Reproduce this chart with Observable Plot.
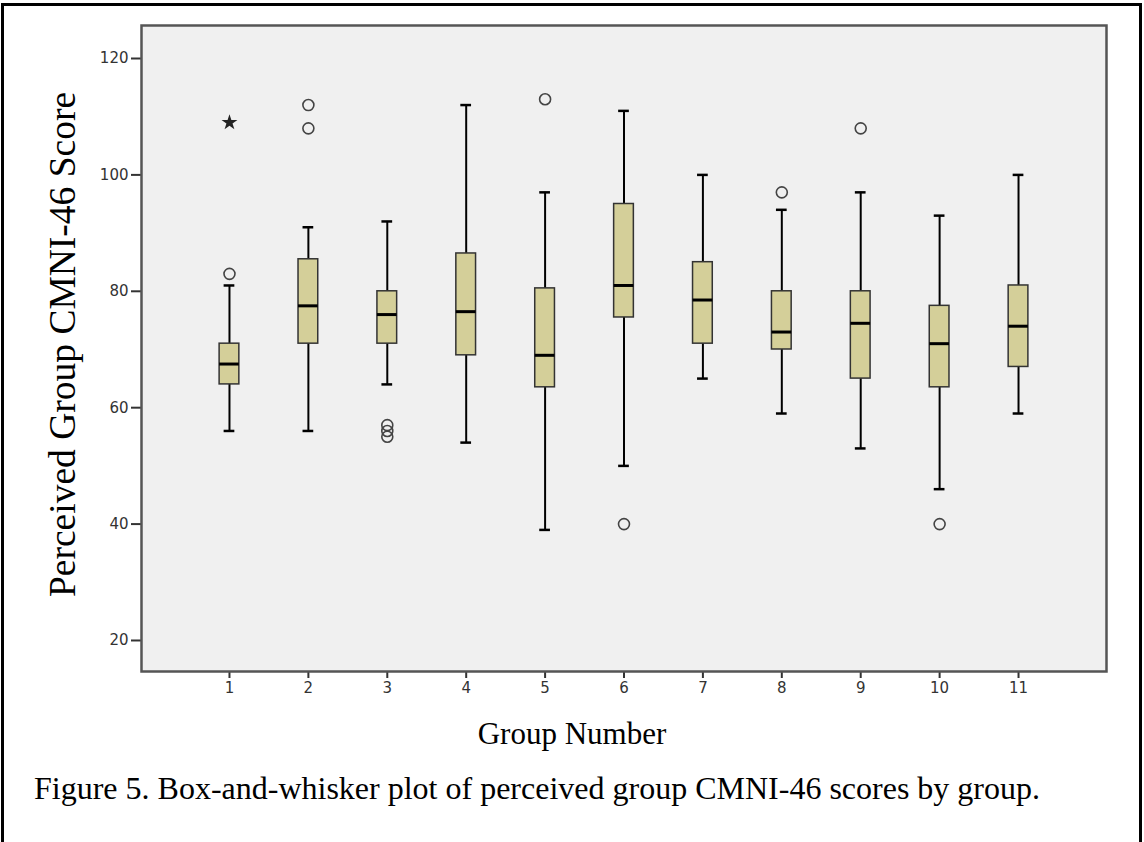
<!DOCTYPE html>
<html>
<head>
<meta charset="utf-8">
<script src="https://cdn.jsdelivr.net/npm/d3@7"></script>
<script src="https://cdn.jsdelivr.net/npm/@observablehq/plot@0.6"></script>
<style>
  html, body { margin: 0; padding: 0; background: #fff; overflow: hidden; }
  #page { position: relative; width: 1144px; height: 842px; }
  #border { position: absolute; left: 1px; top: 3px; width: 1141px; height: 860px; border: 3px solid #000; box-sizing: border-box; }
  #chart { position: absolute; left: 0; top: 0; }
  #caption { position: absolute; left: 34px; top: 772px; font-family: "Liberation Serif", "Times New Roman", serif; font-size: 32px; line-height: 1; color: #000; white-space: nowrap; }
</style>
</head>
<body>
<div id="page">
  <div id="border"></div>
  <div id="chart"></div>
  <div id="caption">Figure 5. Box-and-whisker plot of perceived group CMNI-46 scores by group.</div>
</div>
<script>
// ---- data ----
const groups      = [1, 2, 3, 4, 5, 6, 7, 8, 9, 10, 11];
const whiskerLow  = [56, 56, 64, 54, 39, 50, 65, 59, 53, 46, 59];
const q1          = [64, 71, 71, 69, 63.5, 75.5, 71, 70, 65, 63.5, 67];
const medians     = [67.5, 77.5, 76, 76.5, 69, 81, 78.5, 73, 74.5, 71, 74];
const q3          = [71, 85.5, 80, 86.5, 80.5, 95, 85, 80, 80, 77.5, 81];
const whiskerHigh = [81, 91, 92, 112, 97, 111, 100, 94, 97, 93, 100];
const outlierGroups = [1, 2, 2, 3, 3, 3, 5, 6, 8, 9, 10];
const outlierValues = [83, 112, 108, 57, 56, 55, 113, 40, 97, 108, 40];
const extremeGroups = [1];
const extremeValues = [109];
const yTicks = [20, 40, 60, 80, 100, 120];
const xTitle = "Group Number";
const yTitle = "Perceived Group CMNI-46 Score";

const boxes = groups.map((g, i) => ({
  group: g, low: whiskerLow[i], q1: q1[i], median: medians[i], q3: q3[i], high: whiskerHigh[i]
}));
const outliers = outlierGroups.map((g, i) => ({group: g, value: outlierValues[i]}));
const extremes = extremeGroups.map((g, i) => ({group: g, value: extremeValues[i]}));

const serif = "Liberation Serif, Times New Roman, serif";

const chart = Plot.plot({
  width: 1144,
  height: 760,
  marginLeft: 141,
  marginTop: 25,
  marginRight: 38,
  marginBottom: 89,
  style: { fontFamily: "DejaVu Sans, sans-serif", background: "transparent", color: "#222" },
  x: { type: "band", domain: groups, paddingInner: 0.75, paddingOuter: 0.99, align: 0.5, round: false },
  y: { domain: [14.67, 125.67] },
  marks: [
    Plot.frame({ fill: "#f0f0f0" }),
    Plot.axisY({ ticks: yTicks, tickSize: 10, tickPadding: 3, fontSize: 15, strokeWidth: 2, color: "#333", label: null }),
    Plot.axisX({ tickSize: 7, tickPadding: 4, fontSize: 15, strokeWidth: 2, color: "#333", label: null }),
    // whiskers
    Plot.ruleX(boxes, { x: "group", y1: "low", y2: "q1", stroke: "#000", strokeWidth: 2 }),
    Plot.ruleX(boxes, { x: "group", y1: "q3", y2: "high", stroke: "#000", strokeWidth: 2 }),
    Plot.tickY(boxes, { x: "group", y: "low", stroke: "#000", strokeWidth: 2.5, insetLeft: 4.5, insetRight: 4.5 }),
    Plot.tickY(boxes, { x: "group", y: "high", stroke: "#000", strokeWidth: 2.5, insetLeft: 4.5, insetRight: 4.5 }),
    // boxes
    Plot.barY(boxes, { x: "group", y1: "q1", y2: "q3", fill: "#d4cf99", stroke: "#333", strokeWidth: 1.5 }),
    Plot.tickY(boxes, { x: "group", y: "median", stroke: "#000", strokeWidth: 3 }),
    // outliers
    Plot.dot(outliers, { x: "group", y: "value", r: 5.5, stroke: "#444", strokeWidth: 1.6, fill: "none" }),
    Plot.dot(extremes, { x: "group", y: "value", symbol: "star", r: 5, fill: "#222", stroke: "none" }),
    Plot.frame({ stroke: "#555", strokeWidth: 2.5 }),
    // axis titles
    Plot.text([xTitle], { frameAnchor: "bottom", lineAnchor: "bottom", textAnchor: "middle", dx: -52, dy: 72, fontSize: 31, fontFamily: serif, fill: "#000" }),
    Plot.text([yTitle], { frameAnchor: "left", lineAnchor: "bottom", textAnchor: "middle", rotate: -90, dx: -67, dy: -4, fontSize: 37.5, fontFamily: serif, fill: "#000" })
  ]
});
document.getElementById("chart").appendChild(chart);
</script>
</body>
</html>
